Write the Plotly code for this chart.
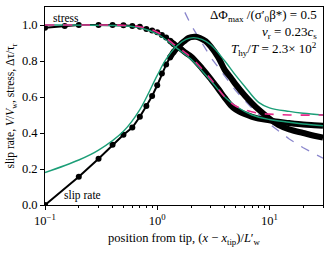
import plotly.graph_objects as go

# ---- data ----
slip_x = [0.1, 0.2, 0.3, 0.4, 0.5, 0.6, 0.7, 0.8, 0.9, 1.0, 1.1, 1.2, 1.3, 1.4, 1.5,
          1.6, 1.7, 1.8, 1.9, 2.0, 2.2, 2.4, 2.7, 3.0, 3.5, 4.0, 4.5, 5.0, 6.0, 7.0,
          8.0, 10.0, 12.0, 15.0, 20.0, 25.0, 30.0]
slip_y = [0.0, 0.157, 0.257, 0.335, 0.39, 0.43, 0.49, 0.55, 0.605, 0.665, 0.73, 0.78,
          0.82, 0.85, 0.872, 0.89, 0.905, 0.918, 0.928, 0.933, 0.935, 0.928, 0.91,
          0.88, 0.82, 0.75, 0.71, 0.67, 0.61, 0.565, 0.53, 0.48, 0.445, 0.42, 0.40,
          0.385, 0.375]

stress_x = [0.1, 0.15, 0.2, 0.3, 0.4, 0.5, 0.6, 0.7, 0.8, 0.9, 1.0, 1.1, 1.2, 1.3,
            1.4, 1.5, 1.6, 1.8, 2.0, 2.5, 3.0, 3.5, 4.0, 4.5, 5.0, 6.0, 7.0, 8.0,
            10.0, 12.0, 15.0, 20.0, 25.0, 30.0]
stress_y = [0.985, 0.995, 1.0, 1.0, 1.0, 0.998, 0.995, 0.99, 0.978, 0.97, 0.96, 0.945,
            0.93, 0.912, 0.895, 0.882, 0.87, 0.845, 0.825, 0.76, 0.70, 0.645, 0.595,
            0.555, 0.53, 0.505, 0.49, 0.48, 0.47, 0.462, 0.455, 0.447, 0.443, 0.44]

pink_x = [0.1, 0.3, 0.5, 0.7, 1.0, 1.5, 2.0, 3.0, 4.0, 5.0, 6.0, 8.0, 10.0, 15.0, 30.0]
pink_y = [1.0, 1.0, 0.998, 0.99, 0.96, 0.88, 0.82, 0.70, 0.60, 0.55, 0.53, 0.51,
          0.505, 0.50, 0.50]

green_stress_x = [0.1, 0.5, 0.7, 1.0, 1.5, 2.0, 3.0, 4.0, 5.0, 7.0, 10.0, 15.0, 20.0, 30.0]
green_stress_y = [1.0, 0.995, 0.985, 0.95, 0.87, 0.81, 0.69, 0.60, 0.55, 0.50, 0.475,
                  0.46, 0.45, 0.44]

green_slip_x = [0.1, 0.2, 0.3, 0.5, 0.7, 1.0, 1.2, 1.5, 1.8, 2.1, 2.5, 3.0, 4.0, 5.0,
                6.0, 8.0, 10.0, 15.0, 20.0, 30.0]
green_slip_y = [0.18, 0.25, 0.305, 0.41, 0.53, 0.72, 0.81, 0.885, 0.92, 0.93, 0.92,
                0.89, 0.80, 0.72, 0.66, 0.57, 0.54, 0.52, 0.51, 0.50]

blue_x = [1.5, 2.0, 3.0, 5.0, 7.0, 10.0, 15.0, 20.0, 30.0]
blue_y = [1.16, 1.0, 0.82, 0.635, 0.537, 0.45, 0.367, 0.318, 0.26]

x_tick_vals = [0.1, 1, 10]
x_tick_text = ["10<sup>−1</sup>", "10<sup>0</sup>", "10<sup>1</sup>"]
x_minor_vals = [0.2, 0.3, 0.4, 0.5, 0.6, 0.7, 0.8, 0.9, 2, 3, 4, 5, 6, 7, 8, 9, 20, 30]
y_tick_vals = [0.0, 0.2, 0.4, 0.6, 0.8, 1.0]
y_tick_text = ["0.0", "0.2", "0.4", "0.6", "0.8", "1.0"]

BAND_START = 1.3
DOT_END = 1.5

GREEN = "#1b9e77"
PINK = "#e7298a"
BLUE = "#8a86cc"
FONT = "Liberation Serif"

fig = go.Figure()

# blue dashed power law
fig.add_trace(go.Scatter(x=blue_x, y=blue_y, mode="lines",
                         line=dict(color=BLUE, width=1.3, dash="dash"), hoverinfo="skip"))

# black curves: thin line, dots, thick band
for xs, ys in [(slip_x, slip_y), (stress_x, stress_y)]:
    fig.add_trace(go.Scatter(x=xs, y=ys, mode="lines",
                             line=dict(color="black", width=2), hoverinfo="skip"))
    dx = [a for a in xs if a <= DOT_END]
    dy = [b for a, b in zip(xs, ys) if a <= DOT_END]
    fig.add_trace(go.Scatter(x=dx, y=dy, mode="markers",
                             marker=dict(color="black", size=6), hoverinfo="skip"))
    bx = [a for a in xs if a >= BAND_START]
    by = [b for a, b in zip(xs, ys) if a >= BAND_START]
    fig.add_trace(go.Scatter(x=bx, y=by, mode="lines",
                             line=dict(color="black", width=6, shape="spline"),
                             hoverinfo="skip"))

# green model curves
fig.add_trace(go.Scatter(x=green_slip_x, y=green_slip_y, mode="lines",
                         line=dict(color=GREEN, width=1.4, shape="spline"), hoverinfo="skip"))
fig.add_trace(go.Scatter(x=green_stress_x, y=green_stress_y, mode="lines",
                         line=dict(color=GREEN, width=1.4, shape="spline"), hoverinfo="skip"))
# pink dashed stress
fig.add_trace(go.Scatter(x=pink_x, y=pink_y, mode="lines",
                         line=dict(color=PINK, width=1.6, dash="dash", shape="spline"),
                         hoverinfo="skip"))

ANN = 13
fig.update_layout(
    width=330, height=255,
    margin=dict(l=45, r=7, t=7, b=50),
    paper_bgcolor="white", plot_bgcolor="white",
    showlegend=False,
    font=dict(family=FONT, size=11.5, color="black"),
    xaxis=dict(type="log", range=[-1, 1.477], tickvals=x_tick_vals, ticktext=x_tick_text,
               ticks="outside", ticklen=4, tickwidth=1, tickcolor="black",
               minor=dict(tickvals=x_minor_vals, ticks="outside", ticklen=2,
                          tickcolor="black", tickwidth=0.8),
               showline=True, linecolor="black", linewidth=1, mirror=True,
               showgrid=False, zeroline=False,
               title=dict(text="position from tip, (<i>x</i> − <i>x</i><sub>tip</sub>)/<i>L</i>′<sub>w</sub>",
                          font=dict(size=12.5), standoff=6),
               tickfont=dict(size=12.5)),
    yaxis=dict(range=[0, 1.1], tickvals=y_tick_vals, ticktext=y_tick_text,
               ticks="outside", ticklen=4, tickwidth=1, tickcolor="black",
               showline=True, linecolor="black", linewidth=1, mirror=True,
               showgrid=False, zeroline=False,
               title=dict(text="slip rate, <i>V</i>/<i>V</i><sub>w</sub>, stress, Δτ/τ<sub>r</sub>",
                          font=dict(size=11.5), standoff=4),
               tickfont=dict(size=12.5)),
    annotations=[
        dict(text="stress", x=0.02, y=0.985, xref="paper", yref="paper",
             xanchor="left", yanchor="top", showarrow=False, font=dict(size=11.5)),
        dict(text="slip rate", x=0.06, y=0.005, xref="paper", yref="paper",
             xanchor="left", yanchor="bottom", showarrow=False, font=dict(size=11.5)),
        dict(text="ΔΦ<sub>max</sub> /(σ′<sub>0</sub>β*) = 0.5", x=0.985, y=0.955,
             xref="paper", yref="paper", xanchor="right", yanchor="middle",
             showarrow=False, font=dict(size=ANN)),
        dict(text="<i>v</i><sub>r</sub> = 0.23<i>c</i><sub>s</sub>", x=0.985, y=0.872,
             xref="paper", yref="paper", xanchor="right", yanchor="middle",
             showarrow=False, font=dict(size=ANN)),
        dict(text="<i>T</i><sub>hy</sub>/<i>T</i> = 2.3× 10<sup>2</sup>", x=0.985, y=0.79,
             xref="paper", yref="paper", xanchor="right", yanchor="middle",
             showarrow=False, font=dict(size=ANN)),
    ],
)

fig.write_html("out.html", config={"displayModeBar": False},
               post_script="document.body.style.margin='0';document.body.style.padding='0';")
